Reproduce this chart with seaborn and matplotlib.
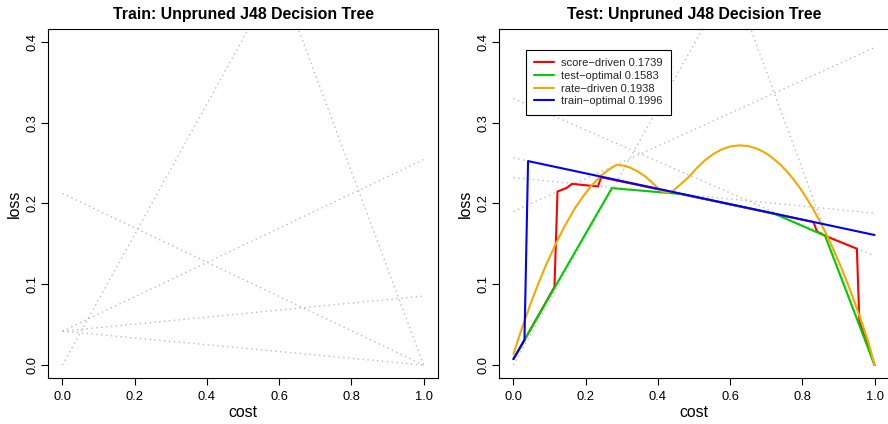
import numpy as np
import pandas as pd
import matplotlib
matplotlib.use("Agg")
import matplotlib.pyplot as plt
import seaborn as sns
from matplotlib.lines import Line2D

# ---------------- data ----------------
# cost lines (value at cost=0 and at cost=1)
train_c0 = [0.0, 1.20, 0.2124, 0.042, 0.042, 0.042]
train_c1 = [0.808, 0.0, 0.0, 0.2544, 0.0854, 0.0]

test_c0 = [0.0, 1.213, 0.33, 0.19, 0.2565, 0.232]
test_c1 = [0.794, 0.0, 0.135, 0.393, 0.161, 0.188]

score_x = [0.0, 0.0305, 0.1136, 0.122, 0.148, 0.162, 0.234, 0.243, 0.831, 0.8405, 0.868, 0.951, 0.958, 1.0]
score_y = [0.0074, 0.031, 0.0967, 0.2148, 0.2194, 0.2243, 0.221, 0.2325, 0.177, 0.1653, 0.159, 0.144, 0.0535, 0.0]

testopt_x = [0.0, 0.2725, 0.47, 0.72, 0.863, 1.0]
testopt_y = [0.0074, 0.219, 0.2115, 0.1878, 0.160, 0.0]

rate_x = [0.0, 0.015, 0.03, 0.05, 0.07, 0.09, 0.115, 0.14, 0.17, 0.195, 0.216, 0.244, 0.265, 0.286,
          0.305, 0.323, 0.345, 0.365, 0.385, 0.40, 0.41, 0.42, 0.43, 0.44, 0.462, 0.485,
          0.508, 0.53, 0.554, 0.577, 0.60, 0.628, 0.652, 0.674, 0.695, 0.711, 0.7387, 0.757,
          0.7756, 0.795, 0.8127, 0.83, 0.848, 0.868, 0.885, 0.905, 0.925, 0.945, 0.965, 0.983, 1.0]
rate_y = [0.0136, 0.0343, 0.054, 0.0789, 0.102, 0.1237, 0.148, 0.1704, 0.194, 0.210, 0.222, 0.235, 0.2422, 0.248,
          0.2468, 0.2445, 0.2395, 0.2335, 0.2255, 0.219, 0.2155, 0.2138, 0.2138, 0.2148, 0.2235, 0.2325,
          0.244, 0.2534, 0.2613, 0.267, 0.2705, 0.272, 0.2709, 0.2679, 0.2633, 0.2587, 0.2483, 0.2398,
          0.2299, 0.218, 0.206, 0.1931, 0.1784, 0.1606, 0.1443, 0.1236, 0.1014, 0.0776, 0.0523, 0.0283, 0.0]

trainopt_x = [0.0, 0.0305, 0.0405, 1.0]
trainopt_y = [0.0074, 0.031, 0.2525, 0.161]

series_labels = ["score\u2212driven 0.1739", "test\u2212optimal 0.1583",
                 "rate\u2212driven 0.1938", "train\u2212optimal 0.1996"]
series_colors = ["#FF0000", "#00CD00", "#F5A800", "#0000FF"]

titles = ["Train: Unpruned J48 Decision Tree", "Test: Unpruned J48 Decision Tree"]
xticks = [0.0, 0.2, 0.4, 0.6, 0.8, 1.0]
yticks = [0.0, 0.1, 0.2, 0.3, 0.4]

# ---------------- style ----------------
sns.set_theme(style="white")
plt.rcParams["font.family"] = ["Liberation Sans", "DejaVu Sans"]
plt.rcParams["axes.unicode_minus"] = True

fig = plt.figure(figsize=(8.88, 4.24), dpi=100)
axL = fig.add_axes([48 / 888, 1 - 378 / 424, 390 / 888, 349 / 424])
axR = fig.add_axes([499 / 888, 1 - 378 / 424, 390 / 888, 349 / 424])


def cost_lines_df(c0, c1):
    rows = []
    for i, (a, b) in enumerate(zip(c0, c1)):
        rows.append({"line": i, "cost": 0.0, "loss": a})
        rows.append({"line": i, "cost": 1.0, "loss": b})
    return pd.DataFrame(rows)


def style_axes(ax, title):
    ax.set_xlim(-0.04, 1.04)
    ax.set_ylim(-0.016, 0.416)
    ax.set_xticks(xticks)
    ax.set_yticks(yticks)
    ax.set_xticklabels([f"{t:.1f}" for t in xticks])
    ax.set_yticklabels([f"{t:.1f}" for t in yticks], rotation=90, va="center")
    ax.tick_params(axis="both", direction="out", length=5, width=0.8, color="black",
                   labelsize=9.3, labelcolor="black", bottom=True, left=True)
    ax.tick_params(axis="x", pad=4)
    ax.tick_params(axis="y", pad=2)
    for s in ax.spines.values():
        s.set_visible(True)
        s.set_color("black")
        s.set_linewidth(0.8)
    ax.set_xlabel("cost", fontsize=11.4, labelpad=2, color="black")
    ax.set_ylabel("loss", fontsize=11.4, labelpad=3, color="black")
    ax.set_title(title, fontsize=11.4, fontweight="bold", pad=7, color="black")
    ax.set_facecolor("white")


for ax, c0, c1 in [(axL, train_c0, train_c1), (axR, test_c0, test_c1)]:
    df = cost_lines_df(c0, c1)
    sns.lineplot(data=df, x="cost", y="loss", units="line", estimator=None,
                 color="#bcbcbc", lw=1.0, ax=ax, legend=False)
    for ln in ax.get_lines():
        ln.set_linestyle((0, (1, 2.5)))

series = [(score_x, score_y), (testopt_x, testopt_y), (rate_x, rate_y), (trainopt_x, trainopt_y)]
for (xs, ys), col in zip(series, series_colors):
    sns.lineplot(x=xs, y=ys, sort=False, estimator=None, color=col, lw=1.5, ax=axR)

style_axes(axL, titles[0])
style_axes(axR, titles[1])

handles = [Line2D([0], [0], color=c, lw=1.5) for c in series_colors]
leg = axR.legend(handles, series_labels, loc="upper left",
                 bbox_to_anchor=((526 - 499) / 390, 1 - (50 - 29) / 349),
                 borderaxespad=0, frameon=True, fancybox=False, shadow=False,
                 fontsize=8, handlelength=1.8, handletextpad=0.6, labelspacing=0.24,
                 borderpad=0.75, framealpha=1)
leg.get_frame().set_edgecolor("black")
leg.get_frame().set_linewidth(0.8)

fig.savefig("out.png", dpi=100)
